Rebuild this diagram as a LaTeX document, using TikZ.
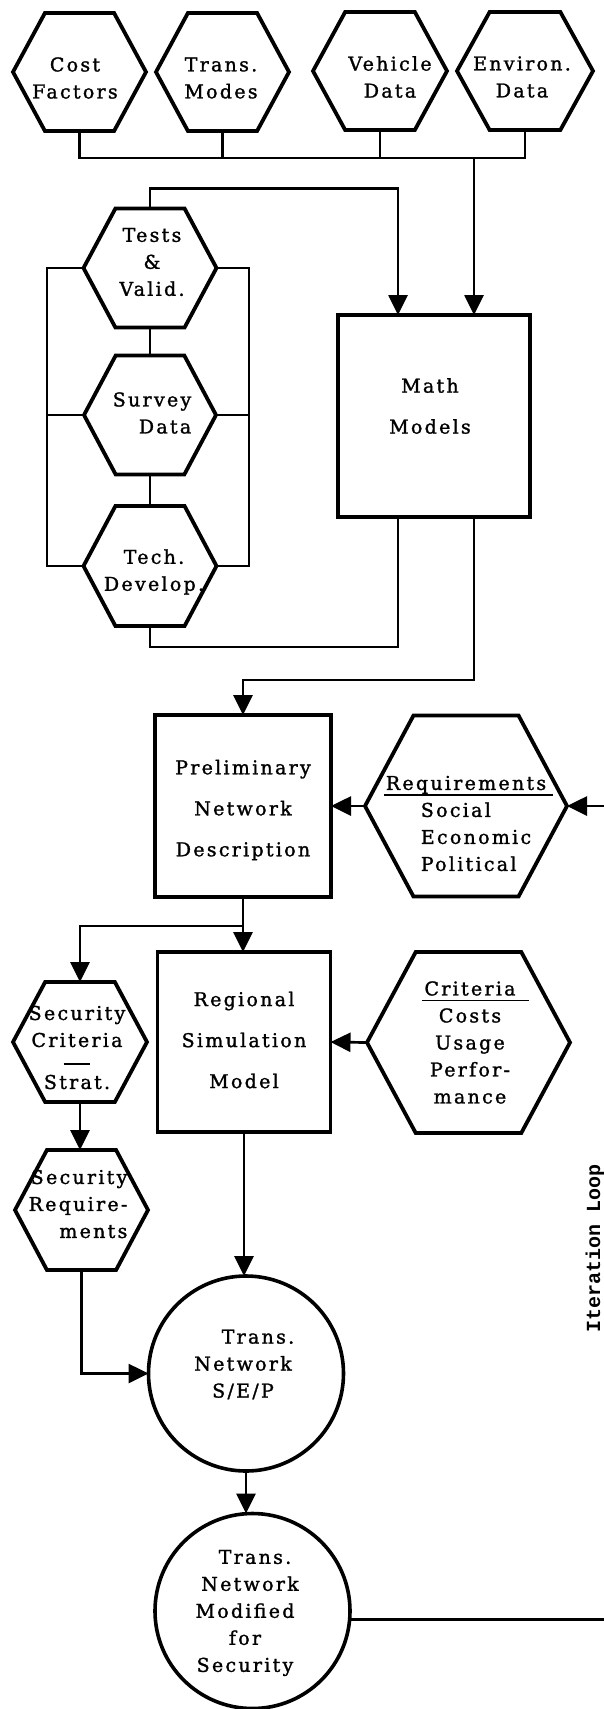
\documentclass[tikz,border=0pt]{standalone}
\usepackage{fontspec}
\setmainfont{DejaVu Serif}[LetterSpace=12, FakeBold=1.4]
\newfontfamily\loopfont{Liberation Mono}
\usetikzlibrary{arrows.meta,calc}

\newcommand\drawhex[1]{%
  \draw[shapeline] (#1.west)
    -- ($(#1.north west)!0.24!(#1.north east)$)
    -- ($(#1.north west)!0.76!(#1.north east)$)
    -- (#1.east)
    -- ($(#1.south west)!0.76!(#1.south east)$)
    -- ($(#1.south west)!0.24!(#1.south east)$)
    -- cycle;}

\begin{document}
\begin{tikzpicture}[x=1pt,y=-1pt,
  shapeline/.style={line width=3.8pt, line join=miter},
  hexnode/.style 2 args={shape=rectangle, inner sep=0pt, outer sep=0pt,
    minimum width=#1, minimum height=#2},
  boxnode/.style 2 args={draw, line width=3.8pt, inner sep=0pt, outer sep=0pt,
    minimum width=#1, minimum height=#2},
  circnode/.style={draw, circle, line width=3.6pt, inner sep=0pt, outer sep=0pt,
    minimum size=195pt},
  hextext/.style={font=\fontsize{19}{27}\selectfont, align=center, inner sep=0pt},
  boxtext/.style={font=\fontsize{19}{41}\selectfont, align=center, inner sep=0pt},
  conn/.style={line width=2.7pt},
  arr/.style={conn, -{Triangle[length=20pt,width=19pt]}},
]
\useasboundingbox (0,0) rectangle (604,1709);
\fill[white] (0,0) rectangle (604,1709);

% ---------- top input hexagons ----------
\node[hexnode={133}{118}] (cost) at (79.5,72) {};
\drawhex{cost}
\node[hextext] (costT) at (75,78) {Cost\\Factors};

\node[hexnode={133}{118}] (trans) at (222.5,72) {};
\drawhex{trans}
\node[hextext] (transT) at (221,78) {Trans.\\Modes};

\node[hexnode={134}{118}] (vehicle) at (380,71) {};
\drawhex{vehicle}
\node[hextext] (vehicleT) at (390,77) {Vehicle\\Data};

\node[hexnode={136}{118}] (environ) at (525,71) {};
\drawhex{environ}
\node[hextext] (environT) at (522,77) {Environ.\\Data};

% ---------- left column ----------
\node[hexnode={133}{119}] (tests) at (150,268) {};
\drawhex{tests}
\node[hextext] (testsT) at (152,262) {Tests\\\&\\Valid.};

\node[hexnode={132}{119}] (survey) at (150,415) {};
\drawhex{survey}
\node[hextext, align=right] (surveyT) at (152,413) {Survey\\Data};

\node[hexnode={133}{120}] (tech) at (150,566) {};
\drawhex{tech}
\node[hextext] (techT) at (154,572) {Tech.\\Develop.};

% ---------- boxes ----------
\node[boxnode={192}{202}] (math) at (434,416) {};
\node[boxtext] (mathT) at (430,406) {Math\\Models};

\node[boxnode={176}{182}] (prelim) at (243,806) {};
\node[boxtext] (prelimT) at (243,810) {Preliminary\\Network\\Description};

\node[boxnode={173}{180}] (regional) at (244,1042) {};
\node[boxtext] (regionalT) at (244,1040) {Regional\\Simulation\\Model};

% ---------- requirement / criteria hexagons ----------
\node[hexnode={202}{181}] (req) at (466,806) {};
\drawhex{req}
\node[hextext, align=left] (reqT) at (466,823.5)
  {\smash{\rlap{\hspace*{-2pt}\rule[-6pt]{169pt}{1.8pt}}}Requirements\\
   \hspace*{35pt}Social\\\hspace*{35pt}Economic\\\hspace*{35pt}Political};

\node[hexnode={203}{181}] (crit) at (468.5,1042.5) {};
\drawhex{crit}
\node[hextext] (critT) at (470,1042.5)
  {\smash{\rlap{\hspace*{-2pt}\rule[-6pt]{107pt}{1.8pt}}}Criteria\\Costs\\Usage\\Perfor-\\mance};

\node[hexnode={134}{120}] (seccrit) at (80,1042) {};
\drawhex{seccrit}
\node[hextext] (seccritT) at (77,1047.5)
  {Security\\Criteria\\\rule[9pt]{27pt}{1.6pt}\\[-12pt]Strat.};

\node[hexnode={133}{120}] (secreq) at (81.5,1210) {};
\drawhex{secreq}
\node[hextext, align=right] (secreqT) at (78,1204) {Security\\Require-\\ments};

% ---------- circles ----------
\node[circnode] (circ1) at (246,1373.5) {};
\node[hextext] (circ1T) at (243,1364.5)
  {\hspace*{30pt}Trans.\\Network\hspace*{12pt}\\S/E/P};

\node[circnode] (circ2) at (252.5,1611) {};
\node[hextext] (circ2T) at (245,1613)
  {\hspace*{20pt}Trans.\\\hspace*{10pt}Network\\Modified\hspace*{10pt}\\for\\Security};

% ---------- iteration loop label ----------
\node[rotate=90, inner sep=0pt, font=\loopfont\bfseries\fontsize{20}{20}\selectfont]
  (iterT) at (595,1248) {Iteration Loop};

\coordinate (busTap) at (474,158);
\coordinate (lb) at (47,268);
\coordinate (rb) at (249,268);
\coordinate (itin) at (604,806);
\coordinate (itout) at (604,1620);

% ---------- connectors ----------
\draw[conn] (cost.south) -- ++(0,27) coordinate (busL) -| (environ.south);
\draw[conn] (trans.south) -- (trans.south |- busL);
\draw[conn] (vehicle.south) -- (vehicle.south |- busL);
\draw[arr] (busTap) -- (busTap |- math.north);

\draw[arr] (tests.north) -- ++(0,-20) -| ([xshift=-36pt]math.north);

\draw[conn] (tests.south) -- (survey.north);
\draw[conn] (survey.south) -- (tech.north);
\draw[conn] (tests.west) -- (lb) |- (tech.west);
\draw[conn] (survey.west) -- (survey.west -| lb);
\draw[conn] (tests.east) -- (rb) |- (tech.east);
\draw[conn] (survey.east) -- (survey.east -| rb);

\draw[conn] ([xshift=-36pt]math.south) -- ++(0,130) -| (tech.south);
\draw[arr] ([xshift=40pt]math.south) -- ++(0,163) -| (prelim.north);

\draw[arr] (itin) -- (req.east);
\draw[arr] (req.west) -- (prelim.east);

\draw[arr] (prelim.south) -- (prelim.south |- regional.north);
\draw[arr] (prelim.south) ++(0,29) -| (seccrit.north);

\draw[arr] (crit.west) -- (regional.east);
\draw[arr] (seccrit.south) -- (seccrit.south |- secreq.north);
\draw[arr] (secreq.south) |- (circ1.west);

\draw[arr] (regional.south) -- (regional.south |- circ1.north);
\draw[arr] (circ1.south) -- (circ1.south |- circ2.north);
\draw[conn] (circ2.-5) -- (circ2.-5 -| itout);
\end{tikzpicture}
\end{document}
